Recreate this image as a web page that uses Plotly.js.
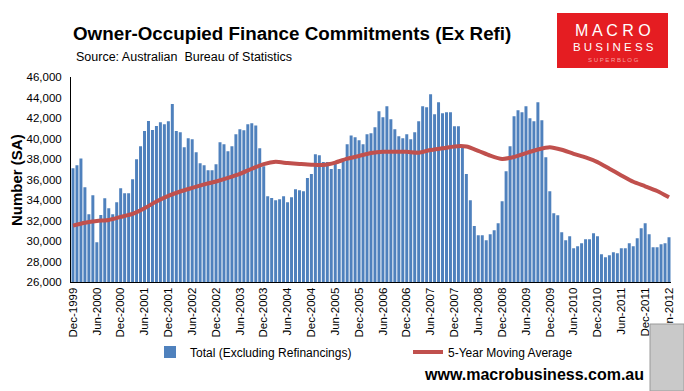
<!DOCTYPE html>
<html>
<head>
<meta charset="utf-8">
<script src="https://cdn.plot.ly/plotly-3.0.1.min.js"></script>
<style>html,body{margin:0;padding:0;background:#fff}#chart{width:684px;height:391px}</style>
</head>
<body>
<div id="chart"></div>
<script>
// Monthly categories Dec-1999 .. Jun-2012
const monthNames = ['Jan','Feb','Mar','Apr','May','Jun','Jul','Aug','Sep','Oct','Nov','Dec'];
const categories = [];
for (let i = 0; i < 151; i++) {
  const m = (11 + i) % 12;
  const y = 1999 + Math.floor((11 + i) / 12);
  categories.push(monthNames[m] + '-' + y);
}
// tick labels: every 6 months
const tickLabels = categories.filter((c, i) => i % 6 === 0);

// Total (Excluding Refinancings), monthly, SA
const totalValues = [
37090,37380,38060,35240,32620,34470,29890,32530,34160,33190,
32620,33770,35140,34650,34650,36020,37980,39240,40720,41700,
40820,41220,41580,41380,41680,43370,40730,40600,39150,40030,
39930,38670,37580,37400,36910,36910,37480,39630,39430,38750,
39240,40420,40900,40800,41400,41490,41280,39040,37300,34360,
34190,33970,34070,34360,33770,34280,35060,34940,34850,36140,
36530,38460,38360,37710,37710,37020,37710,37020,38030,39430,
40290,40130,39830,39430,40410,40510,41090,42650,42070,43140,
41870,40900,40210,40020,40410,39920,40600,41680,43140,43040,
44310,42360,43530,42460,42560,42560,41190,41190,39200,36540,
33970,31460,30550,30550,30070,30650,31040,31720,33870,36800,
39240,42170,42750,42560,43140,41970,41680,43530,41770,38160,
34850,32700,32510,30850,30070,30460,29290,29480,29780,30170,
30170,30750,30460,28700,28410,28600,28900,28800,29290,29290,
29780,29480,30260,31240,31720,30650,29390,29390,29680,29780,
30360];

// 5-Year Moving Average, read quarterly (Dec, Mar, Jun, Sep)
const maCategories = categories.filter((c, i) => i % 3 === 0);
const maValues = [
31500,31780,31960,32050,32350,32650,33200,33850,34400,34830,
35180,35520,35800,36150,36540,37050,37500,37720,37600,37520,
37450,37420,37650,38030,38300,38580,38710,38710,38700,38620,
38880,39040,39230,39220,38800,38330,38000,38200,38580,38930,
39150,38900,38500,38160,37700,37050,36400,35780,35340,34880,
34260];

const seriesNames = ['Total (Excluding Refinancings)', '5-Year Moving Average'];

// layout helpers (pixel -> paper)
const L = 71, T = 77, W = 600, H = 205;
const px = x => (x - L) / W;
const py = y => (T + H - y) / H;

const traces = [
  {
    type: 'bar', x: categories, y: totalValues, name: seriesNames[0],
    marker: {color: '#4F81BD', line: {width: 0}}, hoverinfo: 'x+y'
  },
  {
    type: 'scatter', mode: 'lines', x: maCategories, y: maValues, name: seriesNames[1],
    line: {color: '#C0504D', width: 4, shape: 'spline', smoothing: 0.6}
  }
];

const layout = {
  width: 684, height: 391,
  margin: {l: L, r: 684 - L - W, t: T, b: 391 - T - H, pad: 0},
  paper_bgcolor: '#fff', plot_bgcolor: '#fff',
  font: {family: 'Liberation Sans, Arial, sans-serif', color: '#000', size: 12},
  bargap: 0.25,
  showlegend: true,
  legend: {
    orientation: 'h', x: px(150), xanchor: 'left', y: py(352), yanchor: 'middle',
    font: {size: 12, color: '#000'}, entrywidth: 213, entrywidthmode: 'pixels',
    bgcolor: 'rgba(0,0,0,0)', itemwidth: 30
  },
  xaxis: {
    type: 'category', categoryorder: 'array', categoryarray: categories,
    range: [-0.5, categories.length - 0.5],
    tickmode: 'array', tickvals: tickLabels, ticktext: tickLabels,
    tickangle: -90, tickfont: {size: 11.5, color: '#000'},
    showline: true, linecolor: '#000', linewidth: 1, showgrid: false, ticks: '',
    zeroline: false, fixedrange: true
  },
  yaxis: {
    range: [26000, 46000], tick0: 26000, dtick: 2000, tickformat: ',d',
    tickfont: {size: 11.5, color: '#000'}, showline: true, linecolor: '#000', linewidth: 1,
    showgrid: false, ticks: '', zeroline: false, ticklabelstandoff: 6, fixedrange: true
  },
  shapes: [
    {type: 'rect', xref: 'paper', yref: 'paper', x0: px(557), x1: px(668), y0: py(68), y1: py(13),
     fillcolor: '#E51D22', line: {width: 0}, layer: 'above'},
    {type: 'rect', xref: 'paper', yref: 'paper', x0: px(650), x1: px(684), y0: py(391), y1: py(324),
     fillcolor: '#c9c9c9', line: {width: 1, color: '#9a9a9a'}, layer: 'above'}
  ],
  annotations: [
    {text: '<b>Owner-Occupied Finance Commitments (Ex Refi)</b>', xref: 'paper', yref: 'paper',
     x: px(292), y: py(33), xanchor: 'center', yanchor: 'middle', showarrow: false,
     font: {size: 18.8, color: '#000'}},
    {text: 'Source: Australian \u00a0Bureau of Statistics', xref: 'paper', yref: 'paper',
     x: px(74), y: py(57), xanchor: 'left', yanchor: 'middle', showarrow: false,
     font: {size: 12.5, color: '#000'}},
    {text: '<b>Number (SA)</b>', xref: 'paper', yref: 'paper', textangle: -90,
     x: px(16), y: py(180), xanchor: 'center', yanchor: 'middle', showarrow: false,
     font: {size: 15, color: '#000'}},
    {text: '<b>www.macrobusiness.com.au</b>', xref: 'paper', yref: 'paper',
     x: px(534), y: py(374), xanchor: 'center', yanchor: 'middle', showarrow: false,
     font: {size: 16, color: '#000'}},
    {text: 'M A C R O', xref: 'paper', yref: 'paper',
     x: px(613), y: py(30), xanchor: 'center', yanchor: 'middle', showarrow: false,
     font: {size: 16, color: '#fff'}},
    {text: 'B U S I N E S S', xref: 'paper', yref: 'paper',
     x: px(613), y: py(47), xanchor: 'center', yanchor: 'middle', showarrow: false,
     font: {size: 11.5, color: '#fff'}},
    {text: 'S U P E R B L O G', xref: 'paper', yref: 'paper',
     x: px(613), y: py(60), xanchor: 'center', yanchor: 'middle', showarrow: false,
     font: {size: 6, color: '#F6A0A0'}}
  ]
};

Plotly.newPlot('chart', traces, layout, {displayModeBar: false, staticPlot: true});
</script>
</body>
</html>
